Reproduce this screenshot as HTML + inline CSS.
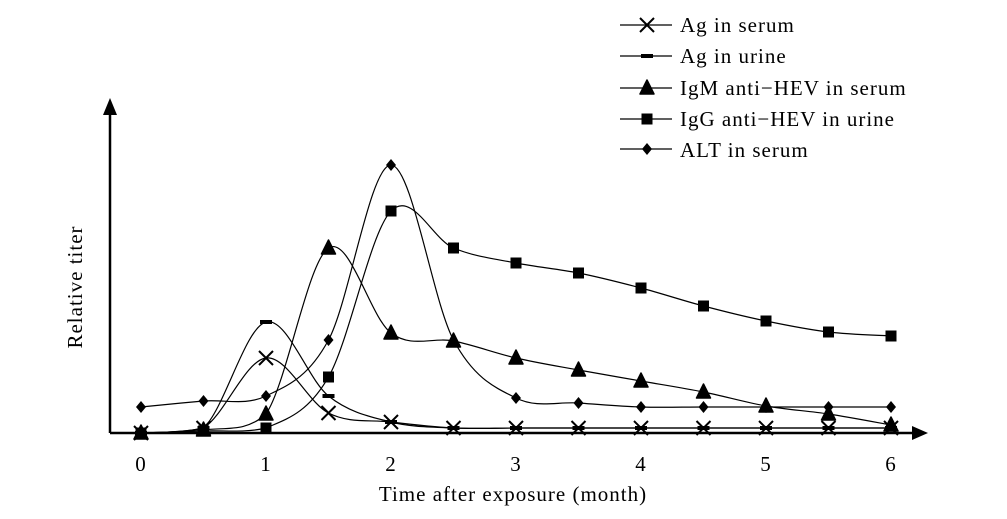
<!DOCTYPE html>
<html><head><meta charset="utf-8"><style>
body{margin:0;background:#fff}
svg{display:block}
text{font-family:"Liberation Serif",serif;fill:#000;letter-spacing:1px}
</style></head><body>
<svg id="s" width="1007" height="519" viewBox="0 0 1007 519" xmlns="http://www.w3.org/2000/svg">
<line x1="110" y1="433" x2="918" y2="433" stroke="#000" stroke-width="2.5"/>
<polygon points="928,433 912,426 912,440" fill="#000"/>
<line x1="110" y1="433" x2="110" y2="110" stroke="#000" stroke-width="2.5"/>
<polygon points="110,98 103,115 117,115" fill="#000"/>
<g font-size="21" text-anchor="middle">
<text x="141" y="471">0</text><text x="266" y="471">1</text><text x="391" y="471">2</text><text x="516" y="471">3</text><text x="641" y="471">4</text><text x="766" y="471">5</text><text x="891" y="471">6</text>
<text x="513" y="501">Time after exposure (month)</text>
<text transform="translate(82,287) rotate(-90)">Relative titer</text>
</g>
<g font-size="21">
<text x="680" y="32">Ag in serum</text>
<text x="680" y="63">Ag in urine</text>
<text x="680" y="95">IgM anti−HEV in serum</text>
<text x="680" y="126">IgG anti−HEV in urine</text>
<text x="680" y="157">ALT in serum</text>
</g>
<g id="g" stroke="#000" fill="none" stroke-width="1.2"></g>
</svg>
<script>
var X=function(t){return 141+t*125;};
var S=[
 ["x",[[0,433],[.5,428],[1,358],[1.5,413],[2,422],[2.5,428],[3,428],[3.5,428],[4,428],[4.5,428],[5,428],[5.5,428],[6,428]]],
 ["d",[[0,433],[.5,428],[1,322],[1.5,396],[2,422],[2.5,428],[3,428],[3.5,428],[4,428],[4.5,428],[5,428],[5.5,428],[6,428]]],
 ["t",[[0,433],[.5,430],[1,414],[1.5,248],[2,333],[2.5,341],[3,358],[3.5,370],[4,381],[4.5,392],[5,406],[5.5,414],[6,425]]],
 ["s",[[0,433],[.5,431],[1,428],[1.5,377],[2,211],[2.5,248],[3,263],[3.5,273],[4,288],[4.5,306],[5,321],[5.5,332],[6,336]]],
 ["r",[[0,407],[.5,401],[1,396],[1.5,340],[2,165],[2.5,340],[3,398],[3.5,403],[4,407],[4.5,407],[5,407],[5.5,407],[6,407]]]
];
var C=function(y){return Math.min(y,433);};
function path(p){var d="M"+p[0][0]+","+p[0][1];for(var i=0;i<p.length-1;i++){var a=p[i-1]||p[i],b=p[i],c=p[i+1],e=p[i+2]||c;d+=" C"+(b[0]+(c[0]-a[0])/6)+","+C(b[1]+(c[1]-a[1])/6)+" "+(c[0]-(e[0]-b[0])/6)+","+C(c[1]-(e[1]-b[1])/6)+" "+c[0]+","+c[1];}return d;}
function mk(t,x,y,leg){var s="";
 if(t=="x")s='<path d="M'+(x-7)+','+(y-7)+'L'+(x+7)+','+(y+7)+'M'+(x-7)+','+(y+7)+'L'+(x+7)+','+(y-7)+'" stroke-width="2"/>';
 if(t=="d")s='<rect x="'+(x-6)+'" y="'+(y-2)+'" width="12" height="4" fill="#000" stroke="none"/>';
 if(t=="t")s='<polygon points="'+x+','+(y-8)+' '+(x+7)+','+(y+6)+' '+(x-7)+','+(y+6)+'" fill="#000" stroke-width="1.5" stroke-linejoin="round"/>';
 if(t=="s")s='<rect x="'+(x-5.5)+'" y="'+(y-5.5)+'" width="11" height="11" fill="#000" stroke="none"/>';
 if(t=="r"&&!(leg===5))s='<polygon points="'+x+','+(y-6)+' '+(x+5)+','+y+' '+x+','+(y+6)+' '+(x-5)+','+y+'" fill="#000" stroke="none"/>';
 return s;}
var h="";
S.forEach(function(s,k){var p=s[1].map(function(q){return [X(q[0]),q[1]];});h+='<path d="'+path(p)+'"/>';p.forEach(function(q,i){h+=mk(s[0],q[0],q[1],i);});
 var ly=[25,56,88,119,149][k];h+='<line x1="620" y1="'+ly+'" x2="672" y2="'+ly+'"/>'+mk(s[0],647,ly);});
document.getElementById("g").innerHTML=h;
</script>
</body></html>
